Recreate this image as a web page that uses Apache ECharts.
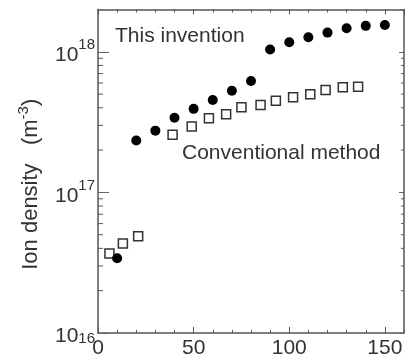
<!DOCTYPE html>
<html>
<head>
<meta charset="utf-8">
<script src="https://cdn.jsdelivr.net/npm/echarts@6/dist/echarts.min.js"></script>
<style>
html,body{margin:0;padding:0;background:#fff;}
#chart{width:411px;height:359px;}
</style>
</head>
<body>
<div id="chart"></div>
<script>
// ---- data ----
const inventionX = [10, 20, 30, 40, 50, 60, 70, 80, 90, 100, 110, 120, 130, 140, 150];
const inventionY = [3.4e16, 2.34e17, 2.75e17, 3.4e17, 3.93e17, 4.54e17, 5.28e17, 6.2e17, 1.04e18, 1.17e18, 1.27e18, 1.37e18, 1.47e18, 1.53e18, 1.55e18];
const conventionalX = [6, 13, 21, 39, 49, 58, 67, 75, 85, 93, 102, 111, 119, 128, 136];
const conventionalY = [3.67e16, 4.33e16, 4.87e16, 2.57e17, 2.94e17, 3.37e17, 3.6e17, 4.03e17, 4.19e17, 4.49e17, 4.75e17, 4.99e17, 5.35e17, 5.59e17, 5.65e17];
const xTickLabels = [0, 50, 100, 150];
const yMajorExponents = [16, 17, 18];
const yMinorTicks = [2e16, 3e16, 4e16, 5e16, 6e16, 7e16, 8e16, 9e16, 2e17, 3e17, 4e17, 5e17, 6e17, 7e17, 8e17, 9e17];
const seriesNames = ['Conventional method', 'This invention'];
const axisTitle = 'Ion density';
const axisUnit = 'm';
const axisUnitExp = '-3';

const X_MIN = 0, X_MAX = 160;
const Y_MIN = 1e16, Y_MAX = 2e18;
const FONT = '"Liberation Sans", Arial, sans-serif';
const TEXT = '#333';
const LINE = '#555';

const chart = echarts.init(document.getElementById('chart'), null, {renderer: 'canvas'});

function tickSeries(xVal, len, name) {
  return {
    type: 'custom',
    name: name,
    silent: true,
    z: 5,
    data: yMinorTicks.map(v => [xVal, v]),
    renderItem: function (params, api) {
      const p = api.coord([api.value(0), api.value(1)]);
      return {
        type: 'line',
        shape: {x1: p[0], y1: p[1], x2: p[0] + len, y2: p[1]},
        style: {stroke: LINE, lineWidth: 1}
      };
    }
  };
}

const xBase = {
  type: 'value', min: X_MIN, max: X_MAX,
  splitLine: {show: false},
  axisLabel: {show: false}
};

const option = {
  animation: false,
  backgroundColor: '#fff',
  grid: {left: 98, top: 9.5, right: 7, bottom: 26, containLabel: false, outerBoundsMode: 'none'},
  xAxis: [
    Object.assign({}, xBase, {
      position: 'bottom', interval: 50,
      axisLine: {show: true, onZero: false, lineStyle: {color: LINE, width: 1.5}},
      axisTick: {show: true, inside: true, length: 6, lineStyle: {color: LINE, width: 1}},
      axisLabel: {
        show: true, margin: 5, fontSize: 21, fontFamily: FONT, color: TEXT,
        showMaxLabel: false,
        formatter: v => (xTickLabels.indexOf(v) >= 0 ? String(v) : '')
      }
    }),
    Object.assign({}, xBase, {
      position: 'bottom', interval: 10,
      axisLine: {show: false, onZero: false},
      axisTick: {show: true, inside: true, length: 3, lineStyle: {color: LINE, width: 1}}
    }),
    Object.assign({}, xBase, {
      position: 'top', interval: 10,
      axisLine: {show: true, onZero: false, lineStyle: {color: LINE, width: 1.5}},
      axisTick: {show: true, inside: true, length: 3, lineStyle: {color: LINE, width: 1}}
    }),
    Object.assign({}, xBase, {
      position: 'top', interval: 50,
      axisLine: {show: false, onZero: false},
      axisTick: {show: true, inside: true, length: 5, lineStyle: {color: LINE, width: 1}}
    })
  ],
  yAxis: [
    {
      type: 'log', logBase: 10, min: Y_MIN, max: Y_MAX, position: 'left',
      splitLine: {show: false},
      axisLine: {show: true, onZero: false, lineStyle: {color: LINE, width: 1.5}},
      axisTick: {show: true, inside: true, length: 11, lineStyle: {color: '#666', width: 1}},
      axisLabel: {
        show: true, margin: 3, showMaxLabel: false,
        formatter: function (v) {
          const e = Math.log10(v);
          const r = Math.round(e);
          if (Math.abs(e - r) < 1e-6 && yMajorExponents.indexOf(r) >= 0) {
            if (r === yMajorExponents[0]) {
              return '{bl|10}{sl|' + r + '}';
            }
            return '{b|10}{s|' + r + '}';
          }
          return '';
        },
        rich: {
          b: {fontSize: 21, fontFamily: FONT, color: TEXT, lineHeight: 28, verticalAlign: 'bottom'},
          s: {fontSize: 15, fontFamily: FONT, color: TEXT, lineHeight: 15, verticalAlign: 'top'},
          bl: {fontSize: 21, fontFamily: FONT, color: TEXT, lineHeight: 28, verticalAlign: 'bottom', padding: [12, 0, 0, 0]},
          sl: {fontSize: 15, fontFamily: FONT, color: TEXT, lineHeight: 15, verticalAlign: 'top', padding: [12, 0, 0, 0]}
        }
      },
      name: '{t|' + axisTitle + '   (' + axisUnit + '}{s|' + axisUnitExp + '}{t|)}',
      nameLocation: 'middle',
      nameRotate: 90,
      nameGap: 56,
      nameTextStyle: {
        padding: [0, 26, 0, 0],
        rich: {
          t: {fontSize: 22, fontFamily: FONT, color: TEXT, lineHeight: 26, verticalAlign: 'bottom'},
          s: {fontSize: 15, fontFamily: FONT, color: TEXT, lineHeight: 15, verticalAlign: 'top'}
        }
      }
    },
    {
      type: 'log', logBase: 10, min: Y_MIN, max: Y_MAX, position: 'right',
      splitLine: {show: false},
      axisLine: {show: true, onZero: false, lineStyle: {color: LINE, width: 1.5}},
      axisTick: {show: true, inside: true, length: 5, lineStyle: {color: '#666', width: 1}},
      axisLabel: {show: false}
    }
  ],
  graphic: [
    {type: 'text', x: 115, y: 36, style: {text: seriesNames[1], font: '21px ' + FONT, fill: TEXT, verticalAlign: 'middle', align: 'left'}},
    {type: 'text', x: 182, y: 153, style: {text: seriesNames[0], font: '21px ' + FONT, fill: TEXT, verticalAlign: 'middle', align: 'left'}}
  ],
  series: [
    tickSeries(X_MIN, 5, 'leftMinor'),
    tickSeries(X_MAX, -3, 'rightMinor'),
    {
      name: seriesNames[0], type: 'scatter', z: 10,
      symbol: 'rect', symbolSize: 9,
      itemStyle: {color: '#fff', borderColor: '#333', borderWidth: 1.5, opacity: 1},
      data: conventionalX.map((x, i) => [x, conventionalY[i]])
    },
    {
      name: seriesNames[1], type: 'scatter', z: 11,
      symbol: 'circle', symbolSize: 10,
      itemStyle: {color: '#000', opacity: 1},
      data: inventionX.map((x, i) => [x, inventionY[i]])
    }
  ]
};
chart.setOption(option);
</script>
</body>
</html>
